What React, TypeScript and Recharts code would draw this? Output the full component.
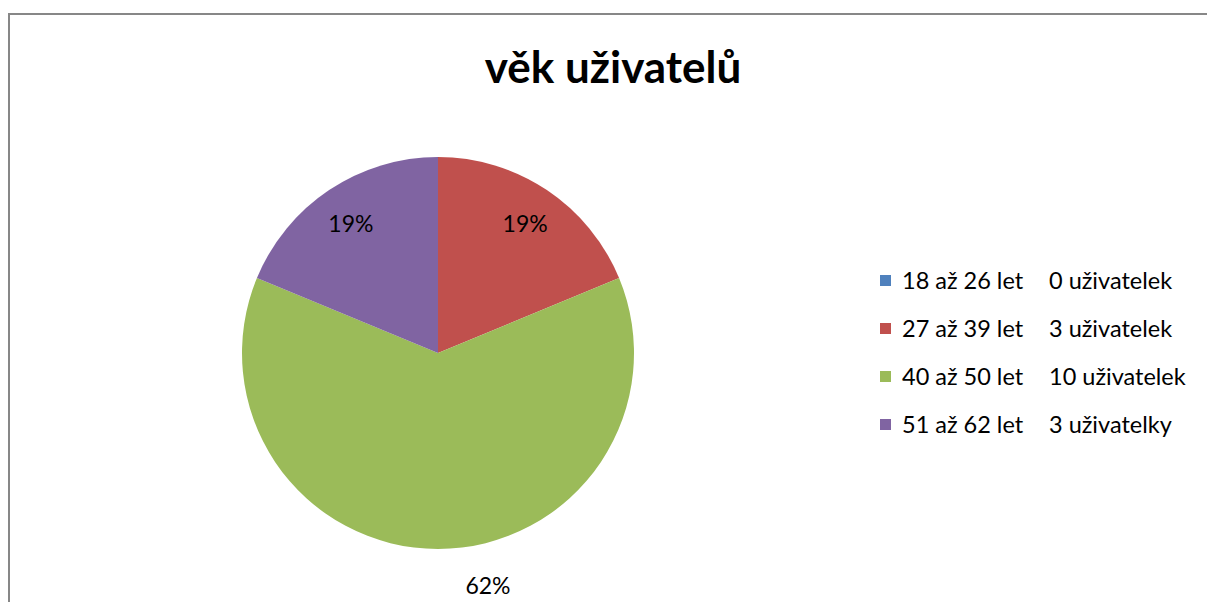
import { PieChart, Pie, Cell, Legend } from 'recharts';

const ageGroups = ['18 až 26 let', '27 až 39 let', '40 až 50 let', '51 až 62 let'];
const userCounts = [0, 3, 10, 3];
const countLabels = ['0 uživatelek', '3 uživatelek', '10 uživatelek', '3 uživatelky'];
const percentLabels = ['0%', '19%', '62%', '19%'];
const colors = ['#4F81BD', '#C0504D', '#9BBB59', '#8064A2'];

const data = ageGroups.map((name, i) => ({
  name,
  value: userCounts[i],
  count: countLabels[i],
  pct: percentLabels[i],
}));

const FONT = 'Lato, "Open Sans", sans-serif';
const RADIAN = Math.PI / 180;

const renderLabel = (props: any) => {
  const { cx, cy, midAngle, outerRadius, index } = props;
  if (userCounts[index] === 0) return null;
  const big = userCounts[index] > 5;
  const r = big ? outerRadius + 36 : outerRadius * 0.8;
  const x = cx + r * Math.cos(-midAngle * RADIAN) + (big ? 50 : 0);
  const y = cy + r * Math.sin(-midAngle * RADIAN);
  return (
    <text x={x} y={y} fill="#000" fontSize={23} fontFamily={FONT} textAnchor="middle" dominantBaseline="central">
      {percentLabels[index]}
    </text>
  );
};

const renderLegend = () => (
  <div style={{ fontFamily: FONT, fontSize: 23.5, color: '#000' }}>
    {data.map((d, i) => (
      <div key={d.name} style={{ position: 'relative', height: 48, lineHeight: '24px' }}>
        <span style={{ position: 'absolute', left: 0, top: 7, width: 11, height: 11, background: colors[i] }} />
        <span style={{ position: 'absolute', left: 22, top: 0, whiteSpace: 'nowrap' }}>{d.name}</span>
        <span style={{ position: 'absolute', left: 169, top: 0, whiteSpace: 'nowrap' }}>{d.count}</span>
      </div>
    ))}
  </div>
);

export default function App() {
  return (
    <div style={{ position: 'absolute', left: 0, top: 0, width: 1207, height: 602, overflow: 'hidden', background: '#fff' }}>
      <div style={{ position: 'absolute', left: 8, top: 13, width: 1210, height: 600, borderTop: '2px solid #878787', borderLeft: '2px solid #878787' }} />
      <div style={{ position: 'absolute', left: 0, top: 38, width: 1226, textAlign: 'center', fontFamily: FONT, fontWeight: 700, fontSize: 44, lineHeight: '56px', color: '#000' }}>
        věk uživatelů
      </div>
      <PieChart width={1207} height={602} style={{ position: 'absolute', left: 0, top: 0 }}>
        <Pie
          data={data}
          dataKey="value"
          nameKey="name"
          cx={433}
          cy={348}
          outerRadius={196}
          startAngle={90}
          endAngle={-270}
          stroke="none"
          label={renderLabel}
          labelLine={false}
          isAnimationActive={false}
        >
          {data.map((d, i) => (
            <Cell key={d.name} fill={colors[i]} />
          ))}
        </Pie>
        <Legend
          layout="vertical"
          align="right"
          verticalAlign="top"
          content={renderLegend}
          wrapperStyle={{ left: 880, top: 268, width: 320 }}
        />
      </PieChart>
    </div>
  );
}
